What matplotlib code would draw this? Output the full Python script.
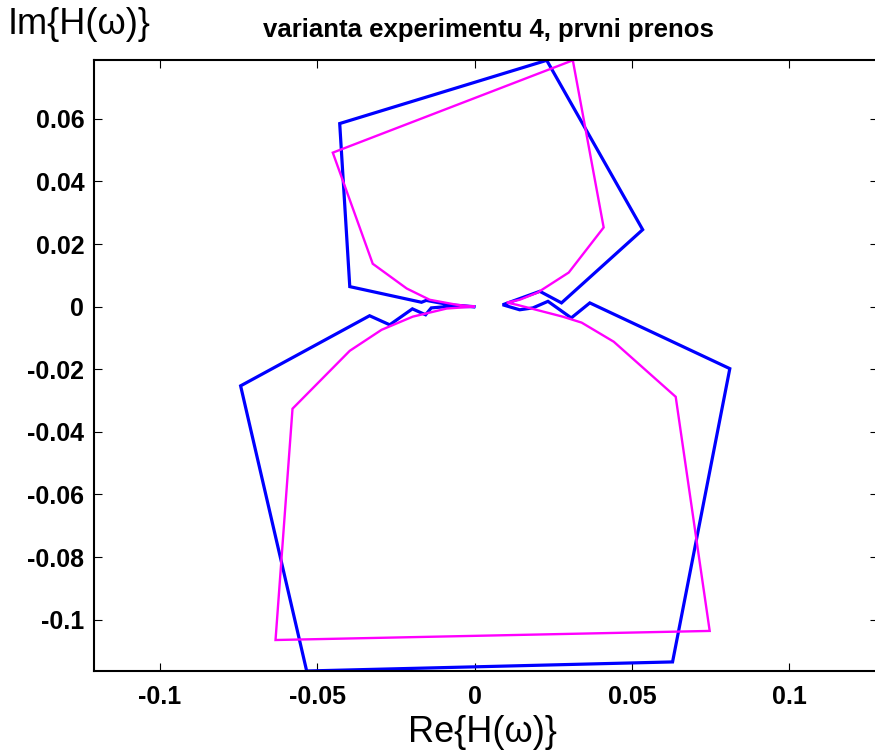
import numpy as np
import matplotlib.pyplot as plt

plt.rcParams['font.family'] = ['Liberation Sans', 'DejaVu Sans']

# Nyquist curves (Re, Im)
blue_re = [-0.0003, -0.0079, -0.0138, -0.0156, -0.0198, -0.0270, -0.0334, -0.0744,
           -0.0534, 0.0629, 0.0811, 0.0366, 0.0307, 0.0233, 0.0185, 0.0143, 0.0089,
           0.0207, 0.0276, 0.0534, 0.0229, -0.0429, -0.0397, -0.0169, -0.0154,
           -0.0079, -0.0003]
blue_im = [0.0, 0.0001, -0.0004, -0.0026, -0.0007, -0.0058, -0.0029, -0.0253,
           -0.1164, -0.1135, -0.0198, 0.0012, -0.0036, 0.0017, -0.0004, -0.0010, 0.0006,
           0.0049, 0.0012, 0.0246, 0.0787, 0.0585, 0.0064, 0.0014, 0.0020,
           0.0006, 0.0]

mag_re = [-0.0003, -0.0089, -0.0197, -0.0296, -0.0397, -0.0579, -0.0633, 0.0747,
          0.0639, 0.0442, 0.0340, 0.0280, 0.0134, 0.0102, 0.0143, 0.0200, 0.0299,
          0.0410, 0.0312, -0.0451, -0.0324, -0.0216, -0.0143, -0.0057, -0.0003]
mag_im = [0.0, -0.0006, -0.0032, -0.0074, -0.0141, -0.0326, -0.1065, -0.1036,
          -0.0288, -0.0112, -0.0051, -0.0032, 0.0006, 0.0013, 0.0022, 0.0045, 0.0109,
          0.0253, 0.0787, 0.0492, 0.0137, 0.0058, 0.0022, 0.0006, 0.0]

xticks = [-0.1, -0.05, 0, 0.05, 0.1]
xticklabels = ['-0.1', '-0.05', '0', '0.05', '0.1']
yticks = [-0.1, -0.08, -0.06, -0.04, -0.02, 0, 0.02, 0.04, 0.06]
yticklabels = ['-0.1', '-0.08', '-0.06', '-0.04', '-0.02', '0', '0.02', '0.04', '0.06']

W, H = 875, 756
fig = plt.figure(figsize=(W / 100, H / 100), dpi=100)
ax = fig.add_axes([94 / W, 85 / H, 784 / W, 611 / H])

ax.plot(blue_re, blue_im, color=(0, 0, 1), lw=2.3, solid_joinstyle='miter')
ax.plot(mag_re, mag_im, color=(1, 0, 1), lw=1.7, solid_joinstyle='miter')

ax.set_xlim(-0.1210, 0.1282)
ax.set_ylim(-0.1164, 0.0788)
ax.set_xticks(xticks)
ax.set_xticklabels(xticklabels, fontweight='bold')
ax.set_yticks(yticks)
ax.set_yticklabels(yticklabels, fontweight='bold')
ax.tick_params(direction='in', top=True, right=True, length=6, width=0.8,
               labelsize=18, pad=7)
ax.tick_params(axis='x', pad=10)
for s in ax.spines.values():
    s.set_linewidth(1.5)

fig.text(488 / W, 1 - 30 / H, 'varianta experimentu 4, prvni prenos',
         ha='center', va='center', fontsize=18.5, fontweight='bold')
fig.text(8 / W, 1 - 25 / H, 'Im{H(ω)}', ha='left', va='center', fontsize=26)
fig.text(482 / W, 1 - 733 / H, 'Re{H(ω)}', ha='center', va='center', fontsize=26)

fig.savefig('out.png', dpi=100)
